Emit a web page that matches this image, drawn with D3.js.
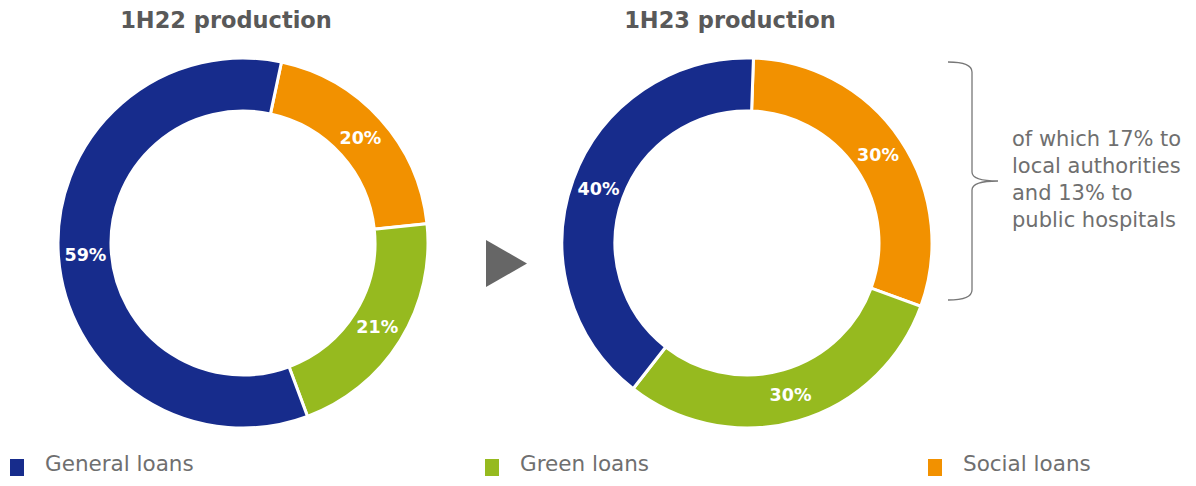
<!DOCTYPE html>
<html>
<head>
<meta charset="utf-8">
<script src="https://cdn.jsdelivr.net/npm/d3@7"></script>
<style>
  body { margin: 0; background: #fff; }
  svg { display: block; font-family: "DejaVu Sans", "Open Sans", sans-serif; }
</style>
</head>
<body>
<svg id="chart" width="1196" height="486"></svg>
<script>
// categories / series
const categories = ["Social loans", "Green loans", "General loans"];
const values1H22 = [20, 21, 59];
const values1H23 = [30, 30, 40];
const titles = ["1H22 production", "1H23 production"];
const legendOrder = ["General loans", "Green loans", "Social loans"];
const noteLines = ["of which 17% to", "local authorities", "and 13% to", "public hospitals"];

const colors = d3.scaleOrdinal()
    .domain(categories)
    .range(["#F29100", "#96BA1F", "#172C8C"]);

const svg = d3.select("#chart");

// 两个环形图
const donuts = [
    { title: titles[0], values: values1H22, cx: 243, cy: 243, start: 12 },
    { title: titles[1], values: values1H23, cx: 747, cy: 243, start: 2 }
];

const rOut = 185, rIn = 132;
const arc = d3.arc().innerRadius(rIn).outerRadius(rOut);
const labelArc = d3.arc().innerRadius(158).outerRadius(158);

donuts.forEach((d, k) => {
    const rad = d.start * Math.PI / 180;
    const pie = d3.pie().sort(null).value(v => v)
        .startAngle(rad).endAngle(rad + 2 * Math.PI);
    const arcs = pie(d.values);

    const g = svg.append("g").attr("transform", `translate(${d.cx},${d.cy})`);

    g.selectAll("path")
        .data(arcs)
        .enter()
        .append("path")
        .attr("d", arc)
        .attr("fill", (a, i) => colors(categories[i]))
        .attr("stroke", "#fff")
        .attr("stroke-width", 3);

    g.selectAll("text")
        .data(arcs)
        .enter()
        .append("text")
        .attr("transform", a => `translate(${labelArc.centroid(a)})`)
        .attr("text-anchor", "middle")
        .attr("dy", "0.36em")
        .attr("fill", "#fff")
        .attr("font-weight", 700)
        .attr("font-size", 17.5)
        .text(a => a.data + "%");

    svg.append("text")
        .attr("x", d.cx - 17)
        .attr("y", 28)
        .attr("text-anchor", "middle")
        .attr("fill", "#595959")
        .attr("font-weight", 700)
        .attr("font-size", 22.5)
        .text(d.title);
});

// 中间的箭头
svg.append("path")
    .attr("d", "M486,240 L527,263.5 L486,287 Z")
    .attr("fill", "#666");

// 右侧大括号
svg.append("path")
    .attr("d", "M948,62 Q972,62 972,72 L972,172 Q972,181 998,181 Q972,181 972,190 L972,290 Q972,300 948,300")
    .attr("fill", "none")
    .attr("stroke", "#777")
    .attr("stroke-width", 1.3);

svg.append("g")
    .selectAll("text")
    .data(noteLines)
    .enter()
    .append("text")
    .attr("x", 1012)
    .attr("y", (t, i) => 146 + i * 27)
    .attr("fill", "#6f6f6f")
    .attr("font-size", 21)
    .text(t => t);

// 图例
const legendX = [10, 485, 928];
const legend = svg.append("g")
    .selectAll("g")
    .data(legendOrder)
    .enter()
    .append("g")
    .attr("transform", (c, i) => `translate(${legendX[i]},459)`);

legend.append("rect")
    .attr("width", 14)
    .attr("height", 17)
    .attr("fill", c => colors(c));

legend.append("text")
    .attr("x", 35)
    .attr("y", 12)
    .attr("fill", "#6f6f6f")
    .attr("font-size", 21.5)
    .text(c => c);
</script>
</body>
</html>
